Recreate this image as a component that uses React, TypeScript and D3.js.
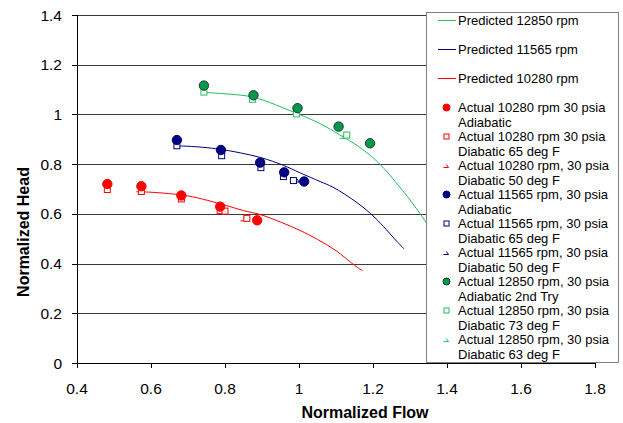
import React from "react";
import * as d3 from "d3";

const xTicks = [0.4, 0.6, 0.8, 1.0, 1.2, 1.4, 1.6, 1.8];
const yTicks = [0, 0.2, 0.4, 0.6, 0.8, 1.0, 1.2, 1.4];

// Predicted curves [flow, head]
const pred12850: [number, number][] = [[0.737, 1.089], [0.8, 1.083], [0.877, 1.069], [0.994, 1.004], [1.057, 0.963], [1.111, 0.917], [1.16, 0.872], [1.2, 0.826], [1.23, 0.782], [1.26, 0.73], [1.3, 0.656], [1.343, 0.567], [1.38, 0.48]];
const pred11565: [number, number][] = [[0.665, 0.873], [0.7, 0.872], [0.786, 0.86], [0.895, 0.827], [0.958, 0.795], [1.003, 0.765], [1.057, 0.73], [1.092, 0.707], [1.157, 0.645], [1.205, 0.585], [1.264, 0.49], [1.284, 0.459]];
const pred10280: [number, number][] = [[0.56, 0.689], [0.6, 0.687], [0.7, 0.672], [0.8, 0.635], [0.85, 0.613], [0.9, 0.595], [1.0, 0.535], [1.05, 0.497], [1.1, 0.452], [1.15, 0.393], [1.172, 0.371]];

// Actual data
const act10280Adi: [number, number][] = [[0.482, 0.72], [0.574, 0.711], [0.682, 0.674], [0.787, 0.629], [0.887, 0.574]];
const act10280Dia65: [number, number][] = [[0.482, 0.698], [0.574, 0.69], [0.682, 0.66], [0.787, 0.613], [0.8, 0.611], [0.859, 0.582]];
const act10280Dia50: [number, number][] = [[0.574, 0.69], [0.85, 0.58]];
const act11565Adi: [number, number][] = [[0.67, 0.897], [0.789, 0.857], [0.895, 0.806], [0.96, 0.767], [1.014, 0.73]];
const act11565Dia65: [number, number][] = [[0.67, 0.874], [0.791, 0.834], [0.897, 0.786], [0.958, 0.75], [0.985, 0.734]];
const act11565Dia50: [number, number][] = [[0.67, 0.88], [0.791, 0.84], [0.897, 0.79], [0.958, 0.756], [0.995, 0.736]];
const act12850Adi: [number, number][] = [[0.743, 1.116], [0.877, 1.077], [0.996, 1.025], [1.107, 0.951], [1.192, 0.884]];
const act12850Dia73: [number, number][] = [[0.743, 1.09], [0.874, 1.061], [0.993, 1.002], [1.129, 0.917]];
const act12850Dia63: [number, number][] = [[1.118, 0.912]];

const RED = "#ff0000";
const BLUE = "#000080";
const GREEN = "#1fbf5f";
const GREEN_DOT = "#00994c";

type MarkerKind = "line" | "circle" | "square" | "tri";
const legendItems: { label: string[]; color: string; kind: MarkerKind }[] = [
  { label: ["Predicted 12850 rpm"], color: GREEN, kind: "line" },
  { label: ["Predicted 11565 rpm"], color: BLUE, kind: "line" },
  { label: ["Predicted 10280 rpm"], color: RED, kind: "line" },
  { label: ["Actual 10280 rpm 30 psia", "Adiabatic"], color: RED, kind: "circle" },
  { label: ["Actual 10280 rpm 30 psia", "Diabatic 65 deg F"], color: RED, kind: "square" },
  { label: ["Actual 10280 rpm, 30 psia", "Diabatic 50 deg F"], color: RED, kind: "tri" },
  { label: ["Actual 11565 rpm, 30 psia", "Adiabatic"], color: BLUE, kind: "circle" },
  { label: ["Actual 11565 rpm, 30 psia", "Diabatic 65 deg F"], color: BLUE, kind: "square" },
  { label: ["Actual 11565 rpm, 30 psia", "Diabatic 50 deg F"], color: BLUE, kind: "tri" },
  { label: ["Actual 12850 rpm, 30 psia", "Adiabatic 2nd Try"], color: GREEN_DOT, kind: "circle" },
  { label: ["Actual 12850 rpm, 30 psia", "Diabatic 73 deg F"], color: GREEN, kind: "square" },
  { label: ["Actual 12850 rpm, 30 psia", "Diabatic 63 deg F"], color: GREEN, kind: "tri" },
];

const FONT = "Liberation Sans, Arial, sans-serif";

function Marker({ x, y, kind, color, small }: { x: number; y: number; kind: MarkerKind; color: string; small?: boolean }) {
  if (kind === "circle") {
    const r = small ? 3.5 : 4.7;
    const stroke = color === GREEN_DOT ? "#1a3a2a" : color;
    return <circle cx={x} cy={y} r={r} fill={color} stroke={stroke} strokeWidth={1} />;
  }
  if (kind === "square") {
    const s = small ? 5 : 6;
    return <rect x={x - s / 2} y={y - s / 2} width={s} height={s} fill="white" stroke={color} strokeWidth={1} />;
  }
  if (kind === "tri") {
    return <path d={`M${x - 3},${y + 2} L${x + 2},${y + 2} L${x},${y - 1}`} fill="none" stroke={color} strokeWidth={1} />;
  }
  return <line x1={x - 9} x2={x + 9} y1={y} y2={y} stroke={color} strokeWidth={1} />;
}

export default function App() {
  const W = 623, H = 423;
  const x = d3.scaleLinear().domain([0.4, 1.8]).range([77, 595]);
  const y = d3.scaleLinear().domain([0, 1.4]).range([363, 15]);
  const line = d3.line<[number, number]>().x(d => x(d[0])).y(d => y(d[1])).curve(d3.curveCatmullRom);

  const lg = { x: 426, y: 12, w: 192, h: 350 };
  const legendRows: { cy: number; item: typeof legendItems[number] }[] = [];
  let cy = 20.5;
  legendItems.forEach((it) => {
    legendRows.push({ cy, item: it });
    cy += 29;
  });

  const scatter = (data: [number, number][], kind: MarkerKind, color: string) =>
    data.map((d, i) => <Marker key={i} x={x(d[0])} y={y(d[1])} kind={kind} color={color} />);

  return (
    <svg width={W} height={H} style={{ position: "absolute", left: 0, top: 0, background: "white" }} fontFamily={FONT}>
      <rect width={W} height={H} fill="white" />
      {yTicks.map(t => (
        <line key={t} x1={77} x2={595} y1={Math.round(y(t)) + 0.5} y2={Math.round(y(t)) + 0.5} stroke={t === 0 ? "#000" : "#3a3a3a"} strokeWidth={1} />
      ))}
      <line x1={77.5} x2={77.5} y1={15} y2={363.5} stroke="#000" />
      {yTicks.map(t => (
        <g key={"yt" + t}>
          <line x1={72} x2={77} y1={Math.round(y(t)) + 0.5} y2={Math.round(y(t)) + 0.5} stroke="#000" />
          <text x={62} y={y(t) + 5.5} fontSize={15.5} textAnchor="end" fill="#000">{+t.toFixed(1)}</text>
        </g>
      ))}
      {xTicks.map(t => (
        <g key={"xt" + t}>
          <line x1={Math.round(x(t)) + 0.5} x2={Math.round(x(t)) + 0.5} y1={363} y2={368} stroke="#000" />
          <text x={x(t)} y={394} fontSize={15.5} textAnchor="middle" fill="#000">{+t.toFixed(1)}</text>
        </g>
      ))}
      <path d={line(pred12850) || ""} fill="none" stroke={GREEN} strokeWidth={1} />
      <path d={line(pred11565) || ""} fill="none" stroke={BLUE} strokeWidth={1} />
      <path d={line(pred10280) || ""} fill="none" stroke={RED} strokeWidth={1} />
      {scatter(act10280Dia50, "tri", RED)}
      {scatter(act10280Dia65, "square", RED)}
      {scatter(act10280Adi, "circle", RED)}
      {scatter(act11565Dia50, "tri", BLUE)}
      {scatter(act11565Dia65, "square", BLUE)}
      {scatter(act11565Adi, "circle", BLUE)}
      {scatter(act12850Dia63, "tri", GREEN)}
      {scatter(act12850Dia73, "square", GREEN)}
      {scatter(act12850Adi, "circle", GREEN_DOT)}
      <text x={365} y={418} fontSize={16} fontWeight="bold" textAnchor="middle">Normalized Flow</text>
      <text transform={`translate(29,232) rotate(-90)`} fontSize={16} fontWeight="bold" textAnchor="middle">Normalized Head</text>
      <rect x={lg.x + 0.5} y={lg.y + 0.5} width={lg.w} height={lg.h} fill="white" stroke="#808080" strokeWidth={1} />
      {legendRows.map(({ cy, item }, i) => (
        <g key={"lg" + i}>
          <Marker x={item.kind === "line" ? 447 : 446.5} y={cy} kind={item.kind} color={item.color} small />
          {item.label.map((l, j) => (
            <text key={j} x={458} y={cy + 4.5 + j * 14.6} fontSize={13} fill="#000">{l}</text>
          ))}
        </g>
      ))}
    </svg>
  );
}
